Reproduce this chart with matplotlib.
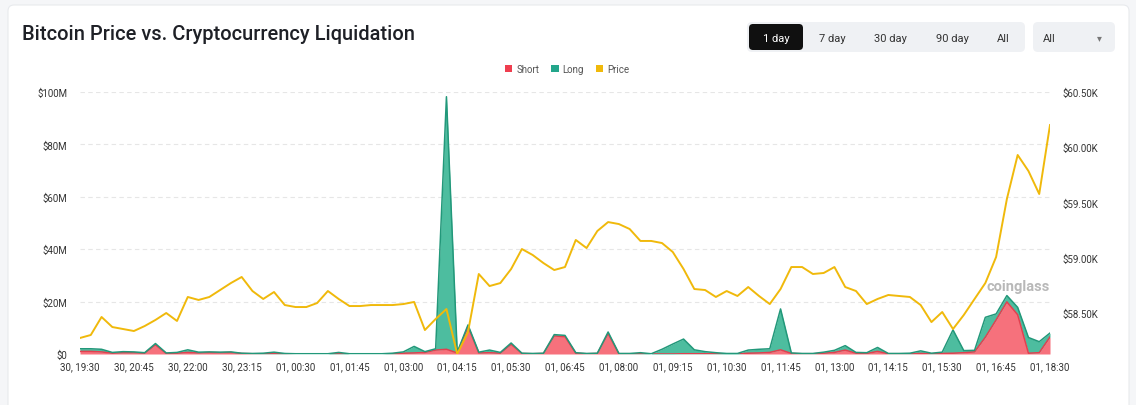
import numpy as np
import matplotlib.pyplot as plt
from matplotlib.patches import FancyBboxPatch, Patch

plt.rcParams['font.family'] = ['Roboto', 'DejaVu Sans']

# x tick labels (every 5th point)
tick_labels = ["30, 19:30", "30, 20:45", "30, 22:00", "30, 23:15", "01, 00:30",
               "01, 01:45", "01, 03:00", "01, 04:15", "01, 05:30", "01, 06:45",
               "01, 08:00", "01, 09:15", "01, 10:30", "01, 11:45", "01, 13:00",
               "01, 14:15", "01, 15:30", "01, 16:45", "01, 18:30"]

# BTC price (USD)
price = [58274, 58301, 58464, 58373, 58355, 58337, 58382, 58437, 58500, 58428,
         58645, 58618, 58645, 58708, 58771, 58826, 58699, 58627, 58690, 58572,
         58554, 58554, 58590, 58699, 58627, 58563, 58563, 58572, 58572, 58572,
         58581, 58600, 58346, 58446, 58536, 58129, 58328, 58853, 58744, 58771,
         58898, 59079, 59025, 58952, 58889, 58916, 59161, 59088, 59242, 59323,
         59305, 59260, 59152, 59152, 59133, 59052, 58898, 58717, 58708, 58645,
         58699, 58654, 58735, 58654, 58581, 58717, 58916, 58916, 58853, 58862,
         58916, 58735, 58699, 58581, 58627, 58663, 58654, 58645, 58572, 58418,
         58509, 58355, 58482, 58627, 58771, 59007, 59532, 59930, 59785, 59577,
         60201]

# liquidations, $M
short = [1.0, 1.0, 0.8, 0.3, 0.5, 0.5, 0.3, 3.5, 0.2, 0.3,
         0.6, 0.4, 0.6, 0.5, 0.6, 0.2, 0.1, 0.1, 0.1, 0.1,
         0.0, 0.0, 0.0, 0.0, 0.1, 0.0, 0.0, 0.0, 0.0, 0.1,
         0.3, 0.4, 0.6, 1.5, 1.8, 0.4, 10.5, 0.4, 0.5, 0.3,
         3.7, 0.2, 0.1, 0.2, 6.9, 6.6, 0.3, 0.1, 0.2, 7.8,
         0.1, 0.1, 0.1, 0.0, 0.0, 0.0, 0.1, 0.1, 0.1, 0.1,
         0.0, 0.0, 0.3, 0.4, 0.6, 1.6, 0.2, 0.1, 0.1, 0.3,
         0.6, 1.5, 0.3, 0.2, 1.0, 0.1, 0.1, 0.1, 0.2, 0.1,
         0.2, 0.3, 0.5, 0.8, 6.4, 13.0, 19.9, 15.0, 0.3, 0.5,
         6.5]
long_ = [1.0, 1.0, 1.0, 0.3, 0.4, 0.3, 0.2, 0.5, 0.2, 0.3,
         1.0, 0.3, 0.2, 0.2, 0.2, 0.1, 0.1, 0.2, 0.6, 0.1,
         0.1, 0.1, 0.1, 0.1, 0.5, 0.1, 0.1, 0.1, 0.1, 0.2,
         0.5, 2.5, 0.3, 0.5, 96.4, 0.3, 0.6, 0.3, 1.0, 0.3,
         0.5, 0.1, 0.1, 0.1, 0.5, 0.5, 0.2, 0.1, 0.1, 0.6,
         0.1, 0.1, 0.4, 0.1, 1.8, 3.8, 5.6, 1.5, 0.8, 0.4,
         0.2, 0.2, 1.2, 1.4, 1.4, 15.6, 0.2, 0.1, 0.1, 0.4,
         0.8, 1.7, 0.3, 0.3, 1.5, 0.1, 0.1, 0.2, 1.0, 0.2,
         0.5, 8.9, 0.8, 0.6, 7.6, 2.3, 2.4, 2.8, 6.0, 4.2,
         1.5]

W, H = 1136, 406
fig = plt.figure(figsize=(W / 100, H / 100), dpi=100)
fig.patch.set_facecolor('#f5f6f8')

# background layer in pixel coords: card, title, buttons
bg = fig.add_axes([0, 0, 1, 1], zorder=-1)
bg.set_xlim(0, W)
bg.set_ylim(H, 0)
bg.axis('off')
bg.add_patch(FancyBboxPatch((8, 6), 1121, 430, boxstyle='round,pad=0,rounding_size=6',
                            fc='white', ec='#e8eaed', lw=0.8))
bg.text(22, 35, 'Bitcoin Price vs. Cryptocurrency Liquidation', fontsize=14.4,
        fontweight='medium', color='#1e2026', va='center')

bg.add_patch(FancyBboxPatch((747, 23), 278, 30, boxstyle='round,pad=0,rounding_size=5',
                            fc='#eff1f4', ec='none'))
bg.add_patch(FancyBboxPatch((749, 25), 54, 26, boxstyle='round,pad=0,rounding_size=4',
                            fc='#101010', ec='none'))
for lab, xc in zip(['1 day', '7 day', '30 day', '90 day', 'All'], [776, 832, 890, 952, 1003]):
    bg.text(xc, 38.5, lab, ha='center', va='center', fontsize=8,
            color='white' if lab == '1 day' else '#333333')
bg.add_patch(FancyBboxPatch((1033, 23), 82, 30, boxstyle='round,pad=0,rounding_size=5',
                            fc='#eff1f4', ec='none'))
bg.text(1043, 38.5, 'All', ha='left', va='center', fontsize=8, color='#333333')
bg.text(1099, 38.5, '\u25be', ha='center', va='center', fontsize=7, color='#777777',
        family=['DejaVu Sans'])
bg.text(1018, 287, 'coinglass', ha='center', va='center', fontsize=10.5,
        fontweight='bold', color='#b8b8b8')

# main chart
ax = fig.add_axes([80 / W, 1 - 355 / H, 970 / W, 262 / H])
ax.patch.set_alpha(0)
x = np.arange(len(price))
s = np.array(short)
t = s + np.array(long_)
ax.fill_between(x, 0, s, color='#f6717c', lw=0, zorder=2)
ax.plot(x, s, color='#e2404f', lw=1.1, zorder=3)
ax.fill_between(x, s, t, color='#4dbd9f', lw=0, zorder=2)
ax.plot(x, t, color='#22987a', lw=1.1, zorder=3)

ax.set_xlim(0, len(price) - 1)
ax.set_ylim(0, 100)
ax.set_yticks(range(0, 101, 20))
ax.set_yticklabels(['$0'] + ['$%dM' % v for v in range(20, 101, 20)])
ax.set_xticks(range(0, len(price), 5))
ax.set_xticklabels(tick_labels)
ax.yaxis.grid(True, color='#e6e6e6', ls=(0, (4, 3)), lw=0.8)
ax.set_axisbelow(True)
for sp in ax.spines.values():
    sp.set_visible(False)
ax.tick_params(axis='y', length=0, pad=9, labelsize=7, labelcolor='#333333')
ax.tick_params(axis='x', length=0, pad=5, labelsize=7, labelcolor='#333333')

ax2 = ax.twinx()
ax2.plot(x, price, color='#f0b90b', lw=1.4, zorder=4)
ax2.set_ylim(58129, 60500)
pt = [58500, 59000, 59500, 60000, 60500]
ax2.set_yticks(pt)
ax2.set_yticklabels(['$%.2fK' % (v / 1000) for v in pt])
for sp in ax2.spines.values():
    sp.set_visible(False)
ax2.tick_params(axis='y', length=0, pad=9, labelsize=7, labelcolor='#333333')

handles = [Patch(fc='#ef3e4f', label='Short'), Patch(fc='#23a68b', label='Long'),
           Patch(fc='#f0b90b', label='Price')]
fig.legend(handles=handles, loc='center', bbox_to_anchor=(567 / W, 1 - 70 / H), ncol=3,
           frameon=False, fontsize=7, handlelength=0.8, handleheight=0.8,
           columnspacing=1.2, handletextpad=0.4, labelcolor='#555555')

fig.savefig('out.png', dpi=100, facecolor=fig.get_facecolor())
